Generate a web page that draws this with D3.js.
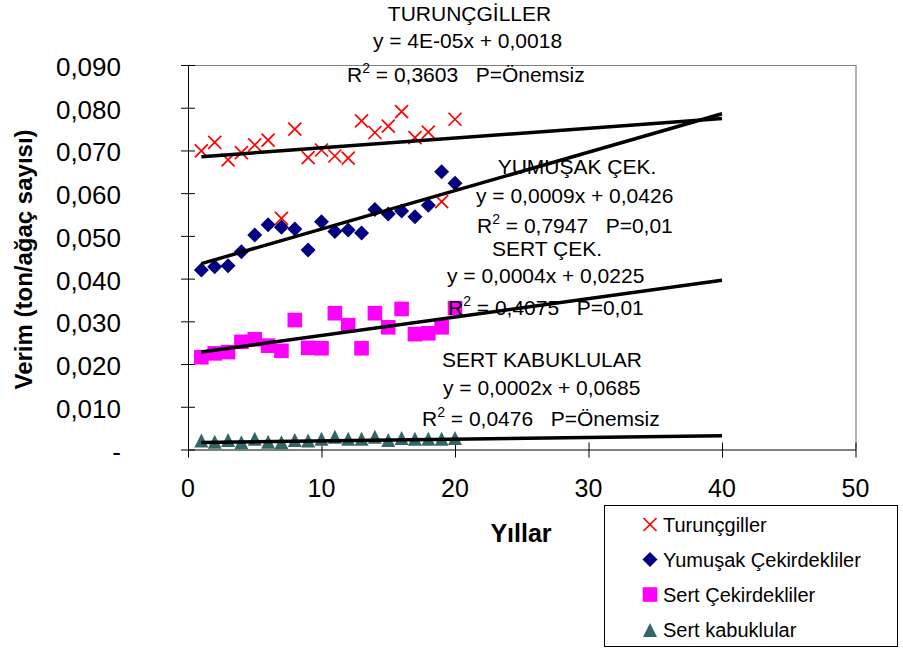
<!DOCTYPE html>
<html><head><meta charset="utf-8">
<script src="https://cdn.jsdelivr.net/npm/d3@7"></script>
<style>
html,body{margin:0;padding:0;background:#fff;}
text{font-family:"Liberation Sans",Arial,sans-serif;white-space:pre;}
</style></head>
<body>
<svg id="chart" width="903" height="651"></svg>
<script>
// ---- data ----
const years = [1,2,3,4,5,6,7,8,9,10,11,12,13,14,15,16,17,18,19,20];
const turuncgiller = [0.0699,0.0719,0.0678,0.0695,0.0713,0.0724,0.0541,0.0750,0.0683,0.0701,0.0687,0.0682,0.0769,0.0742,0.0757,0.0791,0.0730,0.0743,0.0580,0.0773];
const yumusak = [0.0420,0.0428,0.0430,0.0463,0.0502,0.0526,0.0520,0.0516,0.0467,0.0533,0.0510,0.0514,0.0507,0.0562,0.0551,0.0558,0.0545,0.0572,0.0650,0.0623];
const sertCek = [0.0216,0.0225,0.0228,0.0252,0.0258,0.0243,0.0231,0.0303,0.0238,0.0237,0.0319,0.0291,0.0237,0.0319,0.0286,0.0329,0.0270,0.0272,0.0286,0.0331];
const sertKabuk = [0.0021,0.0018,0.0022,0.0017,0.0025,0.0018,0.0017,0.0022,0.0021,0.0025,0.0030,0.0025,0.0025,0.0030,0.0022,0.0027,0.0025,0.0025,0.0025,0.0027];
const seriesNames = ["Turunçgiller","Yumuşak Çekirdekliler","Sert Çekirdekliler","Sert kabuklular"];
// trend lines: slope, intercept, x range
const trendSlopes = [0.00023,0.0009,0.00043,0.00004];
const trendIntercepts = [0.0683,0.0426,0.0224,0.0016];
const trendRange = [1,40];
const yTicks = [0,0.01,0.02,0.03,0.04,0.05,0.06,0.07,0.08,0.09];
const yTickLabels = ["-","0,010","0,020","0,030","0,040","0,050","0,060","0,070","0,080","0,090"];
const xTicks = [0,10,20,30,40,50];
const xTitle = "Yıllar";
const yTitle = "Verim (ton/ağaç sayısı)";
const annTurunc = ["TURUNÇGİLLER","y = 4E-05x + 0,0018","0,3603   P=Önemsiz"];
const annYumusak = ["YUMUŞAK ÇEK.","y = 0,0009x + 0,0426","0,7947   P=0,01"];
const annSertCek = ["SERT ÇEK.","y = 0,0004x + 0,0225","0,4075   P=0,01"];
const annSertKabuk = ["SERT KABUKLULAR","y = 0,0002x + 0,0685","0,0476   P=Önemsiz"];

// ---- layout ----
const svg = d3.select("#chart");
const x = d3.scaleLinear().domain([0,50]).range([188,855.5]);
const y = d3.scaleLinear().domain([0,0.09]).range([449.5,65]);
const colors = ["#FF0000","#000080","#FF00FF","#336666"];
const seriesData = [turuncgiller,yumusak,sertCek,sertKabuk];

// plot area border (gray top/right)
svg.append("path").attr("d",`M${x(0)},${y(0.09)+0.5}H${x(50)+0.5}V${y(0)}`)
  .attr("fill","none").attr("stroke","#808080").attr("stroke-width",1.2);

// axes
const yAxis = d3.axisLeft(y).tickValues(yTicks).tickSizeInner(7).tickSizeOuter(0).tickFormat("");
const gy = svg.append("g").attr("transform",`translate(${x(0)},0)`).call(yAxis);
gy.selectAll(".tick line").attr("x2",-7).attr("x1",7).attr("stroke","#000");
gy.select(".domain").attr("stroke","#000");
const xAxis = d3.axisBottom(x).tickValues(xTicks).tickSizeOuter(0).tickFormat("");
const gx = svg.append("g").attr("transform",`translate(0,${y(0)})`).call(xAxis);
gx.selectAll(".tick line").attr("y1",-7).attr("y2",8).attr("stroke","#000");
gx.select(".domain").attr("stroke","#000");

// tick labels
svg.append("g").selectAll("text").data(yTicks).join("text")
  .attr("x",121).attr("y",d=>y(d)+11).attr("text-anchor","end")
  .attr("font-size",26).attr("fill","#000").text((d,i)=>yTickLabels[i]);
svg.append("g").selectAll("text").data(xTicks).join("text")
  .attr("x",d=>x(d)).attr("y",497).attr("text-anchor","middle")
  .attr("font-size",25).attr("fill","#000").text(d=>d);

// axis titles
svg.append("text").attr("x",521).attr("y",541.5).attr("text-anchor","middle")
  .attr("font-size",25).attr("font-weight","bold").text(xTitle);
svg.append("text").attr("transform","translate(32,259.5) rotate(-90)").attr("text-anchor","middle")
  .attr("font-size",24).attr("font-weight","bold").text(yTitle);

// marker helpers
function drawMarker(g, type, cx, cy){
  if(type===0){
    const s=6.5;
    g.append("path").attr("d",`M${cx-s},${cy-s}L${cx+s},${cy+s}M${cx-s},${cy+s}L${cx+s},${cy-s}`)
      .attr("stroke",colors[0]).attr("stroke-width",1.7).attr("fill","none");
  } else if(type===1){
    const s=7.5;
    g.append("path").attr("d",`M${cx},${cy-s}L${cx+s},${cy}L${cx},${cy+s}L${cx-s},${cy}Z`).attr("fill",colors[1]);
  } else if(type===2){
    const s=7.3;
    g.append("rect").attr("x",cx-s).attr("y",cy-s).attr("width",2*s).attr("height",2*s).attr("fill",colors[2]);
  } else {
    const w=7, h=7;
    g.append("path").attr("d",`M${cx},${cy-h}L${cx+w},${cy+h}L${cx-w},${cy+h}Z`).attr("fill",colors[3]);
  }
}

// points
seriesData.forEach((vals,si)=>{
  const g = svg.append("g");
  vals.forEach((v,i)=>drawMarker(g,si,x(years[i]),y(v)));
});

// trend lines
const line = d3.line().x(d=>x(d[0])).y(d=>y(d[1]));
trendSlopes.forEach((m,i)=>{
  const pts = trendRange.map(t=>[t, m*t+trendIntercepts[i]]);
  svg.append("path").attr("d",line(pts)).attr("stroke","#000").attr("stroke-width",3.5).attr("fill","none");
});

// annotations
function annot(lines, cx, b1, sx2, b2, sx3, b3, center2){
  svg.append("text").attr("x",cx).attr("y",b1).attr("text-anchor","middle").attr("font-size",21).text(lines[0]);
  if(center2){
    svg.append("text").attr("x",sx2).attr("y",b2).attr("text-anchor","middle").attr("font-size",21).text(lines[1]);
  } else {
    svg.append("text").attr("x",sx2).attr("y",b2).attr("font-size",21).text(lines[1]);
  }
  const t = svg.append("text").attr("x",sx3).attr("y",b3).attr("font-size",21);
  t.append("tspan").text("R");
  t.append("tspan").attr("dy",-9).attr("font-size",14).text("2");
  t.append("tspan").attr("dy",9).text(" = " + lines[2]);
}
annot(annTurunc, 469.5, 21, 467.5, 48, 347, 82, true);
annot(annYumusak, 577, 174, 476, 203, 477, 233, false);
annot(annSertCek, 547, 256, 447, 283, 448, 315, false);
annot(annSertKabuk, 542, 367, 443, 395, 422, 426, false);

// legend
svg.append("rect").attr("x",604.5).attr("y",505.5).attr("width",293).attr("height",141)
  .attr("fill","#fff").attr("stroke","#000").attr("stroke-width",1);
const legY = [524.5,559.5,594.5,630];
seriesNames.forEach((n,i)=>{
  const g = svg.append("g");
  drawMarker(g,i,650,legY[i]);
  svg.append("text").attr("x",663).attr("y",legY[i]+7).attr("font-size",20).text(n);
});
</script>
</body></html>
